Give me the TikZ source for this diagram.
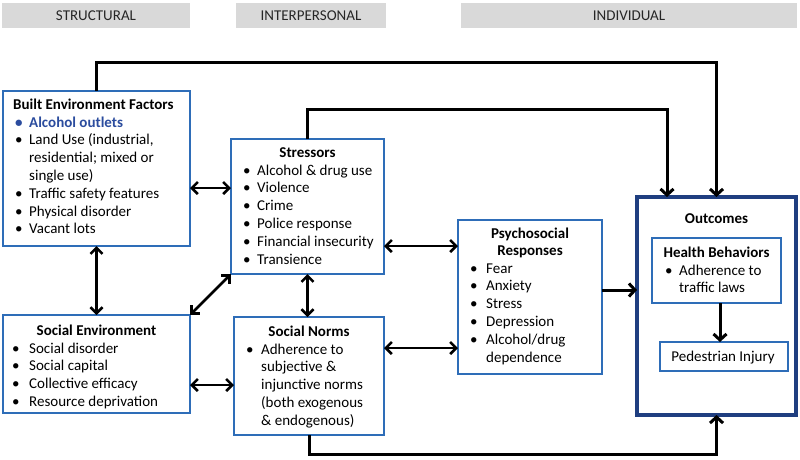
\documentclass[tikz,border=0pt]{standalone}
\usepackage{fontspec}
\setmainfont{Carlito}
\usetikzlibrary{arrows.meta}
\definecolor{boxblue}{HTML}{2E6DB8}
\definecolor{navy}{HTML}{1F3E80}
\definecolor{hlblue}{HTML}{2B4C9E}
\definecolor{hdrgray}{HTML}{D9D9D9}
\definecolor{hdrtext}{HTML}{262626}
\newcommand{\bl}{\makebox[14pt][l]{•}}
\newcommand{\ind}{\hspace*{14pt}}
\begin{document}
\begin{tikzpicture}[x=1pt,y=-1pt,
 box/.style={draw=boxblue, line width=2pt, rectangle, inner sep=0pt, outer sep=0pt, anchor=north west},
 obox/.style={draw=navy, line width=3.5pt, rectangle, inner sep=0pt, outer sep=0pt, anchor=north west},
 hdr/.style={fill=hdrgray, inner sep=0pt, outer sep=0pt, anchor=north west, font=\fontsize{15}{17}\selectfont, text=hdrtext},
 ttl/.style={font=\fontsize{15}{17.8}\selectfont\bfseries, anchor=base, inner sep=0pt},
 ttll/.style={font=\fontsize{15}{17.8}\selectfont\bfseries, anchor=base west, inner sep=0pt},
 lst/.style={font=\fontsize{15}{17.8}\selectfont, anchor=base west, inner sep=0pt},
 con/.style={line width=3pt, -{Straight Barb[length=6pt,width=13pt]}},
 dbl/.style={line width=2.6pt, {Straight Barb[length=6pt,width=12pt]}-{Straight Barb[length=6pt,width=12pt]}},
]
\fill[white] (0,0) rectangle (800,459);
\useasboundingbox (0,0) rectangle (800,459);

% headers
\node[hdr, minimum width=188pt, minimum height=25pt] (h1) at (2,3) {STRUCTURAL};
\node[hdr, minimum width=150pt, minimum height=25pt] (h2) at (236,3) {INTERPERSONAL};
\node[hdr, minimum width=336pt, minimum height=25pt] (h3) at (461,3) {INDIVIDUAL};

% boxes
\node[box, minimum width=187pt, minimum height=155pt] (be) at (3,91) {};
\node[box, minimum width=153pt, minimum height=135pt] (st) at (231,139) {};
\node[box, minimum width=187pt, minimum height=98pt] (se) at (3,315) {};
\node[box, minimum width=150pt, minimum height=118pt] (sn) at (234,317) {};
\node[box, minimum width=144pt, minimum height=154pt] (ps) at (458,220) {};
\node[obox, minimum width=159pt, minimum height=218pt] (out) at (637,197) {};
\node[box, minimum width=129pt, minimum height=65pt] (hb) at (652,238) {};
\node[box, line width=2.4pt, minimum width=128pt, minimum height=29pt] (pi) at (660,342) {};

% texts
\node[ttll] (be-t) at (13,109) {Built Environment Factors};
\node[lst] (be-l) at (15,127) {\begin{tabular}[t]{@{}l@{}}
{\color{hlblue}\bfseries\bl Alcohol outlets}\\
\bl Land Use (industrial,\\
\ind residential; mixed or\\
\ind single use)\\
\bl Traffic safety features\\
\bl Physical disorder\\
\bl Vacant lots
\end{tabular}};

\node[ttl] (st-t) at (307.5,157) {Stressors};
\node[lst] (st-l) at (243,175) {\begin{tabular}[t]{@{}l@{}}
\bl Alcohol \& drug use\\
\bl Violence\\
\bl Crime\\
\bl Police response\\
\bl Financial insecurity\\
\bl Transience
\end{tabular}};

\node[ttl] (se-t) at (96.5,335) {Social Environment};
\node[lst] (se-l) at (12,353) {\begin{tabular}[t]{@{}l@{}}
\makebox[17pt][l]{•}Social disorder\\
\makebox[17pt][l]{•}Social capital\\
\makebox[17pt][l]{•}Collective efficacy\\
\makebox[17pt][l]{•}Resource deprivation
\end{tabular}};

\node[ttl] (sn-t) at (309,336) {Social Norms};
\node[lst] (sn-l) at (246,354) {\begin{tabular}[t]{@{}l@{}}
\makebox[15pt][l]{•}Adherence to\\
\hspace*{15pt}subjective \&\\
\hspace*{15pt}injunctive norms\\
\hspace*{15pt}(both exogenous\\
\hspace*{15pt}\& endogenous)
\end{tabular}};

\node[ttl] (ps-t) at (530,238) {\begin{tabular}[t]{@{}c@{}}Psychosocial\\Responses\end{tabular}};
\node[lst] (ps-l) at (470,273) {\begin{tabular}[t]{@{}l@{}}
\makebox[16pt][l]{•}Fear\\
\makebox[16pt][l]{•}Anxiety\\
\makebox[16pt][l]{•}Stress\\
\makebox[16pt][l]{•}Depression\\
\makebox[16pt][l]{•}Alcohol/drug\\
\hspace*{16pt}dependence
\end{tabular}};

\node[ttl] (out-t) at (716.5,223) {Outcomes};
\node[ttl] (hb-t) at (716.5,257) {Health Behaviors};
\node[lst] (hb-l) at (665,275) {\begin{tabular}[t]{@{}l@{}}
\bl Adherence to\\
\ind traffic laws
\end{tabular}};
\node[lst, anchor=base] (pi-t) at (723,361) {Pedestrian Injury};

% level coordinates
\coordinate (y188) at (0,188);
\coordinate (y385) at (0,385);
\coordinate (y246) at (0,246);
\coordinate (y348) at (0,348);
\coordinate (y290) at (0,290);
\coordinate (c1a) at (96.5,62);
\coordinate (c1b) at (716.5,62);
\coordinate (c2a) at (307.5,109);
\coordinate (c2b) at (667,109);
\coordinate (c3a) at (309,454);
\coordinate (c3b) at (716.5,454);

% connectors
\draw[con] (be.north) -- (c1a) -- (c1b) -- (c1b |- out.north);
\draw[con] (st.north) -- (c2a) -- (c2b) -- (c2b |- out.north);
\draw[con] (sn.south) -- (c3a) -- (c3b) -- (c3b |- out.south);
\draw[dbl] (be.east |- y188) -- (st.west |- y188);
\draw[dbl] (be.south) -- (se.north);
\draw[dbl] (st.south west) -- (se.north east);
\draw[dbl] (st.south) -- (st.south |- sn.north);
\draw[dbl] (se.east |- y385) -- (sn.west |- y385);
\draw[dbl] (st.east |- y246) -- (ps.west |- y246);
\draw[dbl] (sn.east |- y348) -- (ps.west |- y348);
\draw[con] (ps.east |- y290) -- (out.west |- y290);
\draw[con] (hb.south -| 720,0) -- (pi.north -| 720,0);
\end{tikzpicture}
\end{document}
